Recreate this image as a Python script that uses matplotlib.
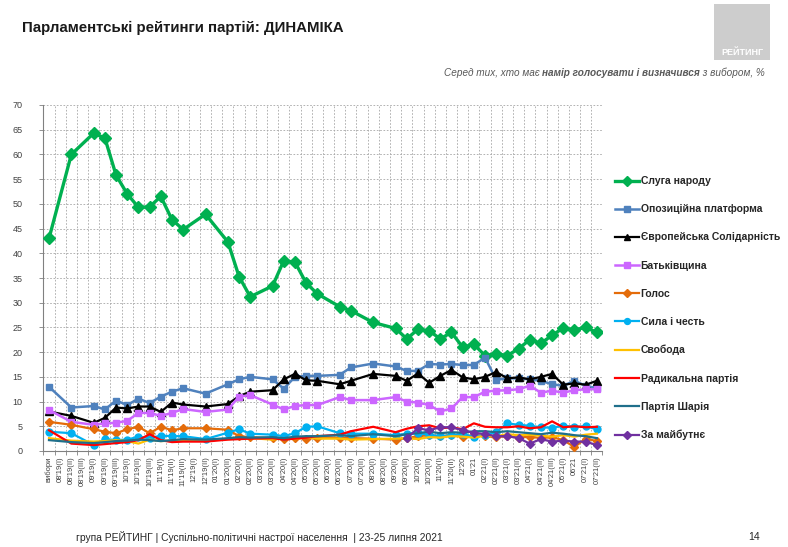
import numpy as np
import matplotlib
matplotlib.use("Agg")
import matplotlib.pyplot as plt

# Шрифти
plt.rcParams['font.family'] = ['Liberation Sans Narrow', 'Liberation Sans', 'DejaVu Sans']

# Підписи по осі X
labels = ["вибори", "08'19(I)", "08'19(II)", "08'19(III)", "09'19(I)", "09'19(II)",
          "09'19(III)", "10'19(I)", "10'19(II)", "10'19(III)", "11'19(I)", "11'19(II)",
          "11'19(III)", "12'19(I)", "12'19(II)", "01'20(I)", "01'20(II)", "02'20(I)",
          "02'20(II)", "03'20(I)", "03'20(II)", "04'20(I)", "04'20(II)", "05'20(I)",
          "05'20(II)", "06'20(I)", "06'20(II)", "07'20(I)", "07'20(II)", "08'20(I)",
          "08'20(II)", "09'20(I)", "09'20(II)", "10'20(I)", "10'20(II)", "11'20(I)",
          "11'20(II)", "12'20", "01'21", "02'21(I)", "02'21(II)", "03'21(I)",
          "03'21(II)", "04'21(I)", "04'21(II)", "04'21(III)", "05'21(I)", "06'21",
          "07'21(I)", "07'21(II)"]

nan = np.nan

# Дані по партіях (nan - порожні клітинки, лінія їх з'єднує)
sluha = [43, nan, 60, nan, 64.3, 63.3, 55.8, 52, 49.3, 49.4,
         51.5, 46.8, 44.8, nan, 47.9, nan, 42.3, 35.3, 31.2, nan,
         33.4, 38.5, 38.2, 34, 31.8, nan, 29.2, 28.4, nan, 26,
         nan, 24.8, 22.7, 24.6, 24.3, 22.7, 24, 21, 21.6, 19.3,
         19.7, 19.3, 20.7, 22.5, 21.8, 23.4, 24.9, 24.5, 25, 24]
opzzh = [13, nan, 8.8, nan, 9.1, 8.4, 10.2, 9.3, 10.6, 9.7,
         11, 12, 12.7, nan, 11.6, nan, 13.5, 14.5, 15, nan,
         14.5, 12.6, 15, 15.2, 15.2, nan, 15.4, 16.9, nan, 17.7,
         nan, 17.1, 16.2, 16.2, 17.6, 17.5, 17.6, 17.4, 17.4, 18.9,
         14.4, 14.7, 14.7, 14.5, 14.2, 13.5, 13.2, 14.2, 13.2, 12.7]
yes = [8, nan, 7.1, nan, 5.7, 6.7, 8.8, 8.6, 9.0, 9.0,
       7.9, 9.8, 9.4, nan, 9.0, nan, 9.5, 11.1, 12.0, nan,
       12.3, 14.5, 15.6, 14.3, 14.2, nan, 13.5, 14.2, nan, 15.6,
       nan, 15.2, 14.2, 15.7, 13.8, 15.2, 16.4, 14.9, 14.5, 15.0,
       16.0, 14.7, 14.9, 14.5, 15.0, 15.6, 13.4, 13.7, 13.4, 14.2]
batk = [8.3, nan, 5.9, nan, 5.3, 5.6, 5.7, 6.1, 7.7, 7.7,
        7.1, 7.7, 8.5, nan, 7.9, nan, 8.4, 11.0, 11.3, nan,
        9.4, 8.4, 9.1, 9.3, 9.3, nan, 10.9, 10.3, nan, 10.3,
        nan, 10.9, 10.0, 9.8, 9.3, 8.0, 8.6, 10.9, 10.9, 12.0,
        12.2, 12.3, 12.5, 13.2, 11.8, 12.2, 11.8, 12.3, 12.5, 12.5]
holos = [5.9, nan, 5.3, nan, 4.4, 3.9, 3.6, 4.4, 4.9, 3.6,
         4.9, 4.2, 4.6, nan, 4.6, nan, 4.3, 3.0, 2.8, nan,
         2.6, 2.4, 2.7, 2.5, 2.6, nan, 2.7, 2.6, nan, 2.5,
         nan, 2.3, 2.6, 3.0, 3.2, 3.0, 3.2, 2.9, 3.2, 3.0,
         2.8, 3.0, 2.7, 2.9, 2.6, 2.8, 2.2, 0.8, 2.5, 2.0]
syla = [3.9, nan, 3.6, nan, 1.2, 2.4, 2.2, 2.3, 2.9, 2.6,
        3.1, 3.0, 3.0, nan, 2.4, nan, 3.7, 4.4, 3.5, nan,
        3.3, 3.0, 3.6, 4.9, 5.0, nan, 3.6, 3.5, nan, 3.5,
        nan, 3.2, 3.5, 3.6, 3.3, 3.0, 3.2, 3.5, 2.8, 3.3,
        3.8, 5.6, 5.3, 5.1, 4.8, 4.7, 5.1, 4.9, 5.0, 4.4]
svoboda = [2.6, nan, 2.1, nan, 1.9, 2.0, 2.2, 2.0, 1.5, 2.3,
           2.0, 2.1, 2.2, nan, 2.1, nan, 2.4, 2.5, 2.6, nan,
           2.3, 2.6, 2.4, 2.8, 2.5, nan, 2.5, 2.3, nan, 2.4,
           nan, 2.5, 2.6, 2.4, 2.8, 2.7, 3.0, 2.9, 2.7, 3.1,
           3.0, 3.4, 3.2, 3.3, 3.1, 2.9, 3.2, 2.9, 3.3, 3.5]
radykal = [4.2, nan, 1.5, nan, 1.2, 1.4, 1.6, 1.8, 2.2, 3.4,
           2.2, 1.8, 1.9, nan, 1.9, nan, 2.3, 2.4, 2.5, nan,
           2.6, 2.3, 2.5, 2.7, 3.0, nan, 3.3, 4.0, nan, 4.9,
           nan, 3.8, 4.5, 5.0, 5.2, 4.6, 4.8, 4.4, 5.6, 4.9,
           4.8, 4.8, 5.0, 4.6, 4.8, 6.0, 4.8, 5.0, 4.8, 4.9]
shariy = [2.2, nan, 1.8, nan, 1.6, 1.8, 2.0, 2.1, 2.3, 2.2,
          2.0, 2.2, 2.4, nan, 2.3, nan, 2.6, 2.8, 2.7, nan,
          2.8, 2.6, 2.9, 3.0, 3.0, nan, 3.2, 3.0, nan, 3.4,
          nan, 3.0, 3.4, 3.6, 3.9, 3.6, 3.8, 3.7, 4.0, 4.0,
          3.8, 4.0, 3.8, 3.6, 3.4, 3.7, 3.5, 3.2, 3.0, 2.6]
maybutne = [nan] * 32 + [2.6, 4.6, 4.2, 4.8, 4.8, 4.2, 3.7, 3.4, 3.0, 3.0,
                         2.6, 1.5, 2.4, 1.9, 2.1, 1.9, 1.9, 1.2]

# Назви та стилі серій
series = [
    ("Слуга народу", sluha, "#00B050", "D", 6.0, 2.4),
    ("Опозиційна платформа", opzzh, "#4F81BD", "s", 5.0, 1.8),
    ("Європейська Солідарність", yes, "#000000", "^", 5.5, 1.6),
    ("Батьківщина", batk, "#CC66FF", "s", 5.0, 1.8),
    ("Голос", holos, "#E46C0A", "D", 4.5, 1.6),
    ("Сила і честь", syla, "#00B0F0", "o", 5.0, 1.6),
    ("Свобода", svoboda, "#FFC000", None, 0, 1.6),
    ("Радикальна партія", radykal, "#FF0000", None, 0, 1.6),
    ("Партія Шарія", shariy, "#1F6F8B", None, 0, 1.6),
    ("За майбутнє", maybutne, "#7030A0", "D", 4.5, 1.6),
]

W, H = 788, 547
fig = plt.figure(figsize=(W / 100, H / 100), dpi=100)

# Область графіка
ax = fig.add_axes([43.4 / W, 1 - 451 / H, 559 / W, 346 / H])
x = np.arange(len(labels))

for name, vals, col, mk, ms, lw in series:
    v = np.array(vals, dtype=float)
    ok = ~np.isnan(v)
    ax.plot(x[ok], v[ok], color=col, lw=lw, marker=mk, ms=ms,
            markeredgecolor=col, label=name, zorder=3)

ax.set_xlim(-0.5, len(labels) - 0.5)
ax.set_ylim(0, 70)
ax.set_yticks(np.arange(0, 71, 5))
ax.set_xticks(x)
ax.set_xticklabels(labels, rotation=90, fontsize=5.5, color="#404040")
ax.set_xticks(np.arange(-0.5, len(labels), 1), minor=True)
ax.tick_params(axis="x", which="major", length=0, pad=4)
ax.tick_params(axis="x", which="minor", length=3, color="#808080", width=0.6)
ax.tick_params(axis="y", labelsize=6.5, labelcolor="#404040", length=3,
               color="#808080", width=0.6, pad=12)

# Сітка
ax.grid(True, axis="y", which="major", color="#A6A6A6", ls=(0, (2, 2)), lw=0.6)
ax.grid(True, axis="x", which="minor", color="#A6A6A6", ls=(0, (2, 2)), lw=0.6)
ax.grid(False, axis="x", which="major")
ax.set_axisbelow(True)
for s in ["top", "right"]:
    ax.spines[s].set_visible(False)
for s in ["left", "bottom"]:
    ax.spines[s].set_color("#808080")
    ax.spines[s].set_linewidth(0.8)

# Легенда
handles, names = ax.get_legend_handles_labels()
leg = fig.legend(handles, names, loc="upper left",
                 bbox_to_anchor=(611 / W, 1 - 172 / H), frameon=False,
                 fontsize=7.5, handlelength=2.3, handletextpad=0.15,
                 labelspacing=1.74, borderaxespad=0, markerscale=0.85)
for t in leg.get_texts():
    t.set_fontweight("bold")
    t.set_color("#262626")

# Заголовок
fig.text(22 / W, 1 - 28 / H, "Парламентські рейтинги партій: ДИНАМІКА",
         fontsize=10.8, fontweight="bold", color="#1a1a1a", va="center")

# Підзаголовок (частково жирний)
r = fig.canvas.get_renderer()
xr = 765 / W
yy = 1 - 73 / H
parts = [(" з вибором, %", "normal"),
         ("намір голосувати і визначився", "bold"),
         ("Серед тих, хто має ", "normal")]
for txt, fw in parts:
    t = fig.text(xr, yy, txt, fontsize=7.2, style="italic", fontweight=fw,
                 color="#595959", ha="right", va="center")
    bb = t.get_window_extent(renderer=r)
    xr = bb.x0 / W

# Логотип
logo = fig.add_axes([714 / W, 1 - 60 / H, 56 / W, 56 / H])
logo.set_facecolor("#CDCDCD")
logo.set_xticks([])
logo.set_yticks([])
for s in logo.spines.values():
    s.set_visible(False)
logo.text(0.5, 0.14, "РЕЙТИНГ", color="white", fontsize=6.5, fontweight="bold",
          ha="center", va="center", transform=logo.transAxes)

# Нижній колонтитул
fig.text(76 / W, 1 - 537 / H,
         "група РЕЙТИНГ | Суспільно-політичні настрої населення  | 23-25 липня 2021",
         fontsize=7.4, color="#262626", va="center")
fig.text(748 / W, 1 - 537 / H, "14", fontsize=7.5, color="#262626", va="center")

fig.savefig("out.png", dpi=100)
